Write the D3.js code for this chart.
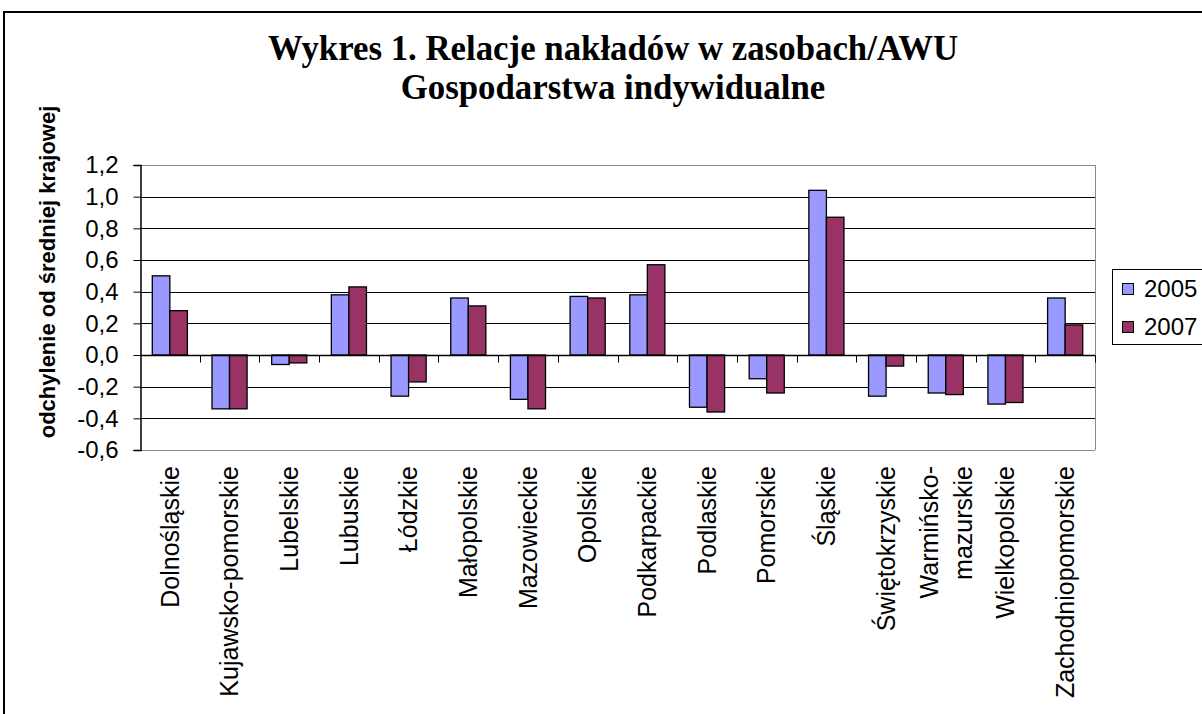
<!DOCTYPE html>
<meta charset="utf-8" />
<script src="https://d3js.org/d3.v7.min.js"></script>
<style>
  body { margin: 0; background: #fff; }
  svg { display: block; }
</style>
<body>
  <div id="chart"></div>
  <script>
    // categories (voivodeships)
    const regions = [
      "Dolnośląskie", "Kujawsko-pomorskie", "Lubelskie", "Lubuskie", "Łódzkie",
      "Małopolskie", "Mazowieckie", "Opolskie", "Podkarpackie", "Podlaskie",
      "Pomorskie", "Śląskie", "Świętokrzyskie", "Warmińsko-mazurskie",
      "Wielkopolskie", "Zachodniopomorskie",
    ];
    const years = ["2005", "2007"];
    const values2005 = [0.50, -0.34, -0.06, 0.38, -0.26, 0.36, -0.28, 0.37, 0.38, -0.33, -0.15, 1.04, -0.26, -0.24, -0.31, 0.36];
    const values2007 = [0.28, -0.34, -0.05, 0.43, -0.17, 0.31, -0.34, 0.36, 0.57, -0.36, -0.24, 0.87, -0.07, -0.25, -0.30, 0.19];
    const yTicks = [-0.6, -0.4, -0.2, 0, 0.2, 0.4, 0.6, 0.8, 1.0, 1.2];
    const colors = ["#9999ff", "#993366"];

    const width = 1202, height = 714;
    const margin = { top: 165, right: 107, bottom: 264, left: 140 };

    const svg = d3.select("#chart")
      .append("svg")
      .attr("width", width)
      .attr("height", height);

    // outer chart frame
    svg.append("rect")
      .attr("x", 4).attr("y", 12)
      .attr("width", 1400).attr("height", 900)
      .attr("fill", "none")
      .attr("stroke", "#000")
      .attr("stroke-width", 2);

    // title
    const title = svg.append("text")
      .attr("text-anchor", "middle")
      .style("font-family", "'Liberation Serif', 'Times New Roman', serif")
      .style("font-weight", "bold")
      .style("font-size", "34.8px");
    title.append("tspan").attr("x", 613).attr("y", 60).text("Wykres 1. Relacje nakładów w zasobach/AWU");
    title.append("tspan").attr("x", 613).attr("y", 99).text("Gospodarstwa indywidualne");

    const x0 = d3.scaleBand()
      .domain(regions)
      .range([margin.left, width - margin.right]);

    const x1 = d3.scaleBand()
      .domain(years)
      .range([0, x0.bandwidth()])
      .paddingInner(0)
      .paddingOuter(0.7);

    const y = d3.scaleLinear()
      .domain([-0.6, 1.2])
      .range([height - margin.bottom, margin.top]);

    const fmt = (d) => d3.format(".1f")(d).replace(".", ",").replace("−", "-");

    // gridlines
    svg.append("g")
      .selectAll("line")
      .data(yTicks)
      .enter()
      .append("line")
      .attr("x1", margin.left)
      .attr("x2", width - margin.right)
      .attr("y1", (d) => Math.round(y(d)) + 0.5)
      .attr("y2", (d) => Math.round(y(d)) + 0.5)
      .attr("stroke", (d) => (d === 1.2 || d === -0.6 ? "#888" : "#000"))
      .attr("stroke-width", 1);

    // plot area right border
    svg.append("line")
      .attr("x1", width - margin.right + 0.5)
      .attr("x2", width - margin.right + 0.5)
      .attr("y1", y(1.2))
      .attr("y2", y(-0.6))
      .attr("stroke", "#888");

    // bars
    const series = [values2005, values2007];
    const groups = svg.append("g")
      .selectAll("g")
      .data(regions)
      .enter()
      .append("g")
      .attr("transform", (d) => `translate(${x0(d)},0)`);

    groups.selectAll("rect")
      .data((d, i) => years.map((yr, k) => ({ year: yr, value: series[k][i], k: k })))
      .enter()
      .append("rect")
      .attr("x", (d) => x1(d.year))
      .attr("y", (d) => y(Math.max(0, d.value)))
      .attr("width", x1.bandwidth())
      .attr("height", (d) => Math.abs(y(d.value) - y(0)))
      .attr("fill", (d) => colors[d.k])
      .attr("stroke", "#000")
      .attr("stroke-width", 1.3);

    // y axis
    const yAxis = svg.append("g")
      .attr("transform", `translate(${margin.left + 0.5},0)`)
      .call(d3.axisLeft(y).tickValues(yTicks).tickFormat(fmt).tickSize(7).tickPadding(15));
    yAxis.select(".domain").attr("stroke", "#000").attr("stroke-width", 1.5);
    yAxis.selectAll("text")
      .style("font-family", "'Liberation Sans', Arial, sans-serif")
      .style("font-size", "24px")
      .attr("fill", "#000");

    // x axis at zero with ticks on category boundaries
    const x0Line = Math.round(y(0)) + 0.5;
    svg.append("line")
      .attr("x1", margin.left)
      .attr("x2", width - margin.right)
      .attr("y1", x0Line)
      .attr("y2", x0Line)
      .attr("stroke", "#000")
      .attr("stroke-width", 1.5);
    svg.append("g")
      .selectAll("line")
      .data(regions)
      .enter()
      .append("line")
      .attr("x1", (d) => Math.round(x0(d) + x0.bandwidth()) + 0.5)
      .attr("x2", (d) => Math.round(x0(d) + x0.bandwidth()) + 0.5)
      .attr("y1", x0Line)
      .attr("y2", x0Line + 7)
      .attr("stroke", "#000");

    // category labels, rotated
    const labels = svg.append("g")
      .selectAll("text")
      .data(regions)
      .enter()
      .append("text")
      .attr("transform", (d) => `translate(${x0(d) + x0.bandwidth() / 2},${height - margin.bottom + 16}) rotate(-90)`)
      .attr("text-anchor", "end")
      .style("font-family", "'Liberation Sans', Arial, sans-serif")
      .style("font-size", "25px")
      .attr("fill", "#000");

    labels.each(function (d) {
      const t = d3.select(this);
      if (d === "Warmińsko-mazurskie") {
        t.append("tspan").attr("x", 0).attr("y", -17).attr("dy", "0.35em").text("Warmińsko-");
        t.append("tspan").attr("x", 0).attr("y", 17).attr("dy", "0.35em").text("mazurskie");
      } else {
        t.append("tspan").attr("x", 0).attr("y", 0).attr("dy", "0.35em").text(d);
      }
    });

    // y axis title
    svg.append("text")
      .attr("transform", `translate(47,272) rotate(-90)`)
      .attr("text-anchor", "middle")
      .attr("dy", "0.35em")
      .style("font-family", "'Liberation Sans', Arial, sans-serif")
      .style("font-weight", "bold")
      .style("font-size", "22px")
      .text("odchylenie od średniej krajowej");

    // legend
    const legend = svg.append("g");
    legend.append("rect")
      .attr("x", 1112.5).attr("y", 269.5)
      .attr("width", 200).attr("height", 75)
      .attr("fill", "#fff")
      .attr("stroke", "#000");
    const items = legend.selectAll("g.item")
      .data(years)
      .enter()
      .append("g")
      .attr("class", "item")
      .attr("transform", (d, i) => `translate(1122,${289 + i * 38})`);
    items.append("rect")
      .attr("x", 0.5).attr("y", -5.5)
      .attr("width", 11).attr("height", 11)
      .attr("fill", (d, i) => colors[i])
      .attr("stroke", "#000");
    items.append("text")
      .attr("x", 22)
      .attr("dy", "0.35em")
      .style("font-family", "'Liberation Sans', Arial, sans-serif")
      .style("font-size", "24px")
      .text((d) => d);
  </script>
</body>
